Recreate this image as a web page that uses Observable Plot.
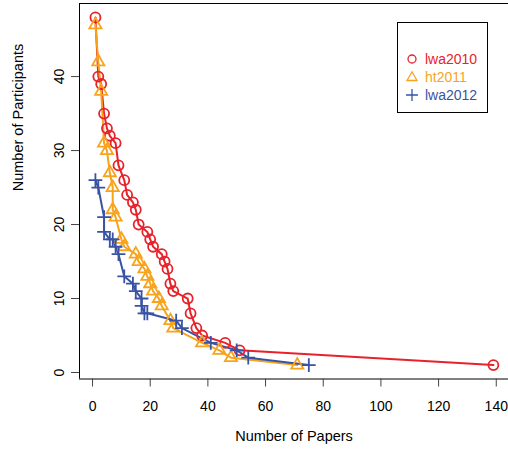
<!DOCTYPE html>
<html>
<head>
<meta charset="utf-8">
<script src="https://cdn.jsdelivr.net/npm/d3@7"></script>
<script src="https://cdn.jsdelivr.net/npm/@observablehq/plot@0.6"></script>
<style>
  html, body { margin: 0; padding: 0; background: #fff; overflow: hidden; }
  #wrap { position: relative; width: 508px; height: 454px; font-family: "Liberation Sans", Arial, sans-serif; }
  #legend { position: absolute; left: 397px; top: 22px; width: 89px; height: 89px; border: 1px solid #000; background: #fff; box-sizing: content-box; }
  .row { position: absolute; left: 0; height: 18px; font-size: 14px; line-height: 18px; }
  .row svg { position: absolute; left: 6px; top: 1px; }
  .row span { position: absolute; left: 27px; top: 0; white-space: nowrap; }
</style>
</head>
<body>
<div id="wrap"></div>
<script>
// Data
const seriesNames = ["lwa2010", "ht2011", "lwa2012"];
const seriesColors = ["#E8222A", "#F7A41C", "#3953A4"];

const lwa2010Papers =       [1, 2, 3, 4, 5, 6, 8, 9, 11, 12, 14, 15, 16, 19, 20, 21, 24, 25, 26, 27, 28, 33, 34, 36, 38, 46, 51, 139];
const lwa2010Participants = [48, 40, 39, 35, 33, 32, 31, 28, 26, 24, 23, 22, 20, 19, 18, 17, 16, 15, 14, 12, 11, 10, 8, 6, 5, 4, 3, 1];

const ht2011Papers =       [1, 2, 3, 4, 5, 6, 7, 7, 8, 10, 11, 15, 16, 18, 19, 20, 21, 23, 24, 27, 28, 38, 44, 48, 71];
const ht2011Participants = [47, 42, 38, 31, 30, 27, 25, 22, 21, 18, 17, 16, 15, 14, 13, 12, 11, 10, 9, 7, 6, 4, 3, 2, 1];

const lwa2012Papers =       [1, 2, 4, 4, 6, 7, 8, 9, 11, 14, 15, 17, 17, 18, 19, 29, 31, 41, 50, 54, 75];
const lwa2012Participants = [26, 25, 21, 19, 18, 18, 17, 16, 13, 12, 11, 10, 9, 8, 8, 7, 6, 4, 3, 2, 1];

const xTicks = [0, 20, 40, 60, 80, 100, 120, 140];
const yTicks = [0, 10, 20, 30, 40];
const xTitle = "Number of Papers";
const yTitle = "Number of Participants";

const toRows = (name, xs, ys) => xs.map((x, i) => ({series: name, papers: x, participants: ys[i]}));
const lwa2010 = toRows("lwa2010", lwa2010Papers, lwa2010Participants);
const ht2011 = toRows("ht2011", ht2011Papers, ht2011Participants);
const lwa2012 = toRows("lwa2012", lwa2012Papers, lwa2012Participants);

// R-style 4% padding around data range
const allX = [...lwa2010Papers, ...ht2011Papers, ...lwa2012Papers];
const allY = [...lwa2010Participants, ...ht2011Participants, ...lwa2012Participants];
const pad = (a) => { const lo = d3.min(a), hi = d3.max(a), p = (hi - lo) * 0.04; return [lo - p, hi + p]; };
const xDom = pad(allX), yDom = pad(allY);

const font = "Liberation Sans, Arial, sans-serif";
const lw = 2;

const chart = Plot.plot({
  width: 508,
  height: 454,
  marginLeft: 79,
  marginTop: 3,
  marginBottom: 75.5,
  marginRight: 0,
  style: {fontFamily: font, fontSize: "14px", background: "#fff", overflow: "hidden"},
  x: {domain: xDom, range: [79, 508.8]},
  y: {domain: yDom, range: [378.5, 3]},
  marks: [
    Plot.ruleY([yDom[0]], {stroke: "#000", strokeWidth: 1}),
    Plot.ruleY([yDom[1]], {stroke: "#000", strokeWidth: 1}),
    Plot.ruleX([xDom[0]], {stroke: "#000", strokeWidth: 1}),
    Plot.axisX({ticks: xTicks, tickSize: 8, tickPadding: 14, label: null, tickFormat: d3.format("d"), stroke: "#444"}),
    Plot.axisY({ticks: yTicks, tickSize: 8, tickPadding: 8, label: null, tickRotate: -90, tickFormat: d3.format("d"), stroke: "#444"}),
    Plot.text([xTitle], {frameAnchor: "bottom", dy: 62, fontSize: 14.5, fill: "#000"}),
    Plot.text([yTitle], {frameAnchor: "left", dx: -61, rotate: -90, fontSize: 14.5, fill: "#000"}),
    Plot.line(lwa2010, {x: "papers", y: "participants", stroke: seriesColors[0], strokeWidth: lw}),
    Plot.line(ht2011, {x: "papers", y: "participants", stroke: seriesColors[1], strokeWidth: lw}),
    Plot.line(lwa2012, {x: "papers", y: "participants", stroke: seriesColors[2], strokeWidth: lw}),
    Plot.dot(lwa2010, {x: "papers", y: "participants", symbol: "circle", r: 5, stroke: seriesColors[0], fill: "none", strokeWidth: 1.8}),
    Plot.dot(ht2011, {x: "papers", y: "participants", symbol: "triangle2", r: 5.8, stroke: seriesColors[1], fill: "none", strokeWidth: 1.8}),
    Plot.dot(lwa2012, {x: "papers", y: "participants", symbol: "plus", r: 4.5, stroke: seriesColors[2], fill: "none", strokeWidth: 1.8})
  ]
});

const wrap = document.getElementById("wrap");
wrap.appendChild(chart);

// Legend
const legend = document.createElement("div");
legend.id = "legend";
const symbolsSvg = [
  (c) => `<svg width="16" height="16"><circle cx="8" cy="8" r="4" fill="none" stroke="${c}" stroke-width="1.3"/></svg>`,
  (c) => `<svg width="16" height="16"><path d="M8,2.8 L13,11.5 L3,11.5 Z" fill="none" stroke="${c}" stroke-width="1.3"/></svg>`,
  (c) => `<svg width="16" height="16"><path d="M8,2 V14 M2,8 H14" fill="none" stroke="${c}" stroke-width="1.3"/></svg>`
];
const rowTops = [27, 45, 63];
seriesNames.forEach((name, i) => {
  const row = document.createElement("div");
  row.className = "row";
  row.style.top = rowTops[i] + "px";
  row.style.color = seriesColors[i];
  row.innerHTML = symbolsSvg[i](seriesColors[i]) + `<span>${name}</span>`;
  legend.appendChild(row);
});
wrap.appendChild(legend);
</script>
</body>
</html>
